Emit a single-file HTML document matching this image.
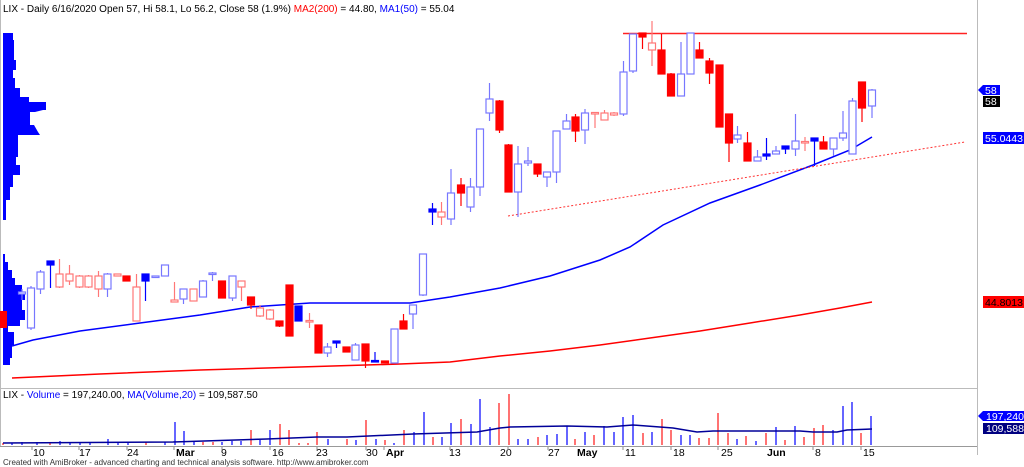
<!DOCTYPE html>
<html><head><meta charset="utf-8">
<style>
html,body{margin:0;padding:0;background:#fff;}
body{width:1024px;height:467px;overflow:hidden;position:relative;font-family:"Liberation Sans",Arial,sans-serif;}
svg{position:absolute;left:0;top:0;}
</style></head><body>
<svg id="s" width="1024" height="467" xmlns="http://www.w3.org/2000/svg" font-family="Liberation Sans, Arial, sans-serif">
<rect width="1024" height="467" fill="#fff"/>
<line x1="0.5" y1="0" x2="0.5" y2="446" stroke="#bbb"/>
<line x1="977.5" y1="0" x2="977.5" y2="455" stroke="#bbb"/>
<line x1="0" y1="388.5" x2="977" y2="388.5" stroke="#bbb"/>
<line x1="0" y1="446.5" x2="977" y2="446.5" stroke="#999"/>
<polygon fill="#0000ff" points="3,33 13,33 13,40 14,40 14,60 16,60 16,70 13,70 13,78 15,78 15,88 20,88 20,97 29,97 29,102 46,102 46,110 43,110 35,112 30,112 30,125 34,125 38,132 40,135 18,135 18,157 16,157 16,165 20,165 20,175 13,175 13,187 10,187 10,200 6,200 6,220 3,220"/>
<polygon fill="#0000ff" points="3,254 5,254 5,262 8,262 8,270 12,270 12,278 15,278 15,285 22,285 22,292 25,292 25,300 22,300 22,310 25,310 25,320 20,320 20,326 8,326 8,332 14,332 14,345 12,345 12,358 10,358 10,365 3,365"/>
<rect x="0" y="311" width="7" height="17" fill="#ff0000"/>
<polyline fill="none" stroke="#ff0000" stroke-width="1.5" points="12,378 100,374 200,370 300,367 400,364 450,362 500,356 550,351 600,345 650,338 700,331 750,323 800,315 840,308 872,302"/>
<polyline fill="none" stroke="#0000ff" stroke-width="1.5" points="12,346 33,340 80,331 140,323 200,315 250,307 310,303 410,303 450,297 500,288 550,276 600,260 630,247 663,225 710,203 760,185 813,165 850,150 872,137"/>
<line x1="508" y1="216" x2="965" y2="142" stroke="#ff3333" stroke-width="1" stroke-dasharray="2,2"/>
<line x1="623" y1="33.5" x2="967" y2="33.5" stroke="#ff2222" stroke-width="1.5"/>
<g id="c"></g>
<g id="v"></g>
<polyline fill="none" stroke="#000099" stroke-width="1.5" points="3,443 173,442 267,439 317,437 347,437 413,434 477,432 500,428 510,427 567,426 607,427 633,425 673,428 697,432 713,431 800,431 813,432 837,432 847,430 872,429"/>
<text x="3" y="12" font-size="10" fill="#000">LIX - Daily 6/16/2020 Open 57, Hi 58.1, Lo 56.2, Close 58 (1.9%) <tspan fill="#ff0000">MA2(200)</tspan> = 44.80, <tspan fill="#0000ff">MA1(50)</tspan> = 55.04</text>
<text x="3" y="398" font-size="10" fill="#000">LIX - <tspan fill="#0000ff">Volume</tspan> = 197,240.00, <tspan fill="#0000ff">MA(Volume,20)</tspan> = 109,587.50</text>
<polygon points="978,90 983,85 1000,85 1000,95 983,95" fill="#0000ff"/>
<text x="985" y="94" font-size="10.5" fill="#fff">58</text>
<rect x="983" y="96" width="17" height="11" fill="#000"/>
<text x="985" y="105" font-size="10.5" fill="#fff">58</text>
<rect x="983" y="132" width="41" height="12" fill="#0000ff"/>
<text x="985" y="142" font-size="10.5" fill="#fff">55.0443</text>
<rect x="983" y="296" width="41" height="12" fill="#ff0000"/>
<text x="985" y="306" font-size="10.5" fill="#000">44.8013</text>
<polygon points="978,416 983,411 1024,411 1024,421 983,421" fill="#0000ff"/>
<text x="986" y="420" font-size="10.5" fill="#fff">197,240</text>
<rect x="983" y="423" width="41" height="11" fill="#000080"/>
<text x="986" y="432" font-size="10.5" fill="#fff">109,588</text>
<g font-size="10.5" fill="#000">
<text x="33" y="456">10</text><text x="79" y="456">17</text><text x="127" y="456">24</text>
<text x="176" y="456" font-weight="bold">Mar</text><text x="221" y="456">9</text><text x="272" y="456">16</text>
<text x="316" y="456">23</text><text x="366" y="456">30</text><text x="386" y="456" font-weight="bold">Apr</text>
<text x="449" y="456">13</text><text x="500" y="456">20</text><text x="548" y="456">27</text>
<text x="577" y="456" font-weight="bold">May</text><text x="625" y="456">11</text><text x="673" y="456">18</text>
<text x="721" y="456">25</text><text x="767" y="456" font-weight="bold">Jun</text><text x="815" y="456">8</text><text x="863" y="456">15</text>
</g>
<g stroke="#888"><line x1="32" y1="447" x2="32" y2="450"/><line x1="79" y1="447" x2="79" y2="450"/><line x1="127" y1="447" x2="127" y2="450"/><line x1="174" y1="447" x2="174" y2="450"/><line x1="222" y1="447" x2="222" y2="450"/><line x1="270" y1="447" x2="270" y2="450"/><line x1="317" y1="447" x2="317" y2="450"/><line x1="366" y1="447" x2="366" y2="450"/><line x1="384" y1="447" x2="384" y2="450"/><line x1="450" y1="447" x2="450" y2="450"/><line x1="508" y1="447" x2="508" y2="450"/><line x1="548" y1="447" x2="548" y2="450"/><line x1="623" y1="447" x2="623" y2="450"/><line x1="671" y1="447" x2="671" y2="450"/><line x1="718" y1="447" x2="718" y2="450"/><line x1="813" y1="447" x2="813" y2="450"/><line x1="861" y1="447" x2="861" y2="450"/></g>
<text x="3" y="465" font-size="8" fill="#333">Created with AmiBroker - advanced charting and technical analysis software. http://www.amibroker.com</text>
</svg>
<script>
var C=[[22,292,294,289,300,'b'],[31,288,328,286,330,'b'],[40.5,272,289,270,294,'b'],[50.5,261,265,261,288,'B'],[59.5,274,287,259,288,'r'],[69.5,274,281,265,285,'r'],[79.5,276,287,275,288,'r'],[88.5,276,287,275,288,'r'],[98.5,276,289,271,297,'r'],[107.5,274,289,273,297,'b'],[117.5,274,276,274,276,'r'],[126.5,276,281,276,281,'R'],[136.5,287,321,274,321,'r'],[145.5,274,281,274,301,'B'],[155.5,276,277,276,277,'b'],[165,265,276,265,276,'b'],[174.5,300,302,282,302,'r'],[183.5,289,299,289,304,'b'],[193.5,289,301,289,301,'r'],[203,281,297,280,297,'b'],[212.5,273,274,272,281,'b'],[222,281,298,281,298,'R'],[232.5,276,298,276,301,'b'],[241.5,281,287,281,301,'r'],[251,297,305,297,309,'R'],[260,308,316,305,317,'r'],[270,310,319,309,320,'r'],[279.5,321,326,321,327,'R'],[289.5,285,336,285,336,'R'],[298.5,306,321,306,321,'B'],[309.5,320.5,321.5,313,328,'r'],[318.5,325,353,325,353,'R'],[327.5,347,353,343,357,'b'],[336.5,341,343,341,348,'B'],[346.5,347,352,347,352,'R'],[355.5,345,360,343,360,'b'],[365.5,344,361,344,368,'R'],[375,360.5,361.5,352,362,'B'],[385,361,363,361,363,'R'],[394.5,329,363,329,363,'b'],[403.5,321,329,314,329,'R'],[413,305,314,305,329,'b'],[423,254,295,254,296,'b'],[432.5,209,212,203,225,'B'],[441.5,212,217,202,225,'r'],[451,193,219,169,225,'b'],[461,185,193,178,206,'R'],[470.5,187,207,178,212,'b'],[480,129,187,129,196,'b'],[489.5,99,113,83,121,'b'],[499.5,101,130,100,133,'R'],[508.5,145,192,144,192,'R'],[518,164,192,146,217,'b'],[528,161,163,147,166,'b'],[537.5,164,174,164,177,'R'],[547,172,177,172,187,'b'],[556.5,131,172,131,183,'b'],[566.5,121,129,114,129,'b'],[575.5,117,131,114,142,'R'],[585,113,130,109,144,'b'],[595,112.5,113.5,112,128,'r'],[604.5,113,120,110,120,'r'],[614,113,115,112,116,'r'],[623.5,72,114,61,116,'b'],[633,34,71,34,73,'b'],[642.5,33,37,33,49,'R'],[652,43,50,21,66,'r'],[661.5,50,74,34,74,'R'],[671,74,96,73,96,'R'],[681,74,96,42,96,'b'],[690.5,33,74,33,74,'b'],[699.5,50,58,42,58,'R'],[709.5,61,73,58,84,'R'],[719.5,65,127,65,127,'R'],[729,114,143,114,162,'R'],[737.5,135,139,126,143,'b'],[747.5,143,161,132,161,'R'],[757.5,157,161,150,161,'b'],[766.5,154,156,138,160,'B'],[776,151,154,146,154,'b'],[785.5,146,149,146,154,'B'],[795.5,141,149,114,156,'b'],[805,141.5,142.5,137,151,'r'],[814.5,138,141,138,166,'B'],[823.5,142,149,136,149,'R'],[833.5,138,149,138,156,'b'],[843,133,138,111,141,'b'],[852.5,101,154,98,154,'b'],[862,82,108,82,122,'R'],[872,90,106,89,118,'b']];
var V=[[3,443,'r'],[12,443,'b'],[22,442,'b'],[37,442,'b'],[50,442,'r'],[60,441,'b'],[70,442,'b'],[80,442,'b'],[90,442,'b'],[108,439,'b'],[118,442,'b'],[128,442,'b'],[146,442,'r'],[165,442,'b'],[175,422,'b'],[184,431,'b'],[194,442,'b'],[203,442,'r'],[213,442,'r'],[222,442,'b'],[232,441,'b'],[241,441,'b'],[251,430,'r'],[260,440,'b'],[270,430,'b'],[280,424,'r'],[289,430,'r'],[299,443,'r'],[308,443,'r'],[317,432,'r'],[328,439,'b'],[347,439,'r'],[356,440,'b'],[366,420,'r'],[376,439,'b'],[385,440,'r'],[394,443,'b'],[404,430,'r'],[414,432,'b'],[424,412,'b'],[433,437,'r'],[442,437,'b'],[451,423,'b'],[461,419,'r'],[471,424,'b'],[480,399,'b'],[490,427,'b'],[499,403,'r'],[509,394,'r'],[518,439,'b'],[528,439,'b'],[538,437,'r'],[547,435,'b'],[557,434,'b'],[567,426,'b'],[575,439,'r'],[585,432,'b'],[594,435,'r'],[604,426,'b'],[614,432,'b'],[623,417,'b'],[633,415,'b'],[643,433,'r'],[652,432,'b'],[662,419,'r'],[671,430,'r'],[681,435,'b'],[690,435,'b'],[699,438,'r'],[709,438,'r'],[718,413,'r'],[728,433,'r'],[737,439,'b'],[746,436,'r'],[756,441,'b'],[766,433,'r'],[776,427,'b'],[785,440,'r'],[795,426,'b'],[804,437,'r'],[814,428,'r'],[823,425,'r'],[833,430,'b'],[843,406,'b'],[852,402,'b'],[861,433,'r'],[871,416,'b']];
var ns='http://www.w3.org/2000/svg',g=document.getElementById('c'),gv=document.getElementById('v');
function el(p,t,a){var e=document.createElementNS(ns,t);for(var k in a)e.setAttribute(k,a[k]);p.appendChild(e);return e;}
C.forEach(function(c){var x=c[0],t=c[5],col={B:'#0000ff',b:'#7777ff',R:'#ff0000',r:'#ff7777'}[t],fill=(t=='B'||t=='R')?col:'#fff';
el(g,'line',{x1:x,y1:c[3],x2:x,y2:c[4],stroke:col,'stroke-width':1.2});
var h=Math.max(c[2]-c[1],1.5);el(g,'rect',{x:x-3.5,y:c[1],width:7,height:h,fill:fill,stroke:col,'stroke-width':1.2});});
V.forEach(function(v){el(gv,'line',{x1:v[0],y1:v[1],x2:v[0],y2:445,stroke:v[2]=='b'?'#3333ff':'#ff4444','stroke-width':1.5});});
</script>
</body></html>
